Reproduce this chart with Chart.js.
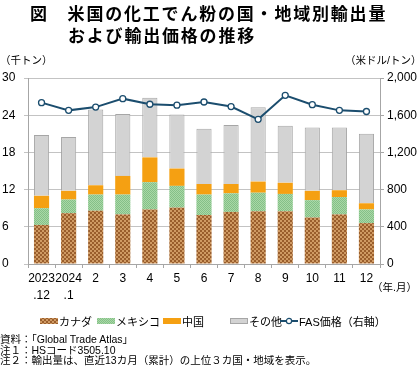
<!DOCTYPE html>
<html><head><meta charset="utf-8">
<script src="https://cdn.jsdelivr.net/npm/chart.js@4.4.0/dist/chart.umd.min.js"></script>
<style>
body{margin:0;width:420px;height:378px;overflow:hidden;background:#fff;font-family:"Liberation Sans","Noto Sans CJK JP",sans-serif;color:#000;}
#wrap{position:relative;width:420px;height:378px;}
#c{position:absolute;left:0;top:0;}
.t{position:absolute;white-space:nowrap;line-height:1;}
.title{font-family:"Noto Sans CJK JP";font-weight:bold;font-size:17px;letter-spacing:1.8px;}
.small{font-size:10.5px;}
.leg{position:absolute;top:315px;height:12px;display:flex;align-items:center;font-size:11px;white-space:nowrap;}
.leg canvas{margin-right:1px;}
</style></head><body>
<div id="wrap">
<canvas id="c" width="420" height="378"></canvas>
<div class="t title" style="left:30px;top:4px;">図　米国の化工でん粉の国・地域別輸出量</div>
<div class="t title" style="left:68px;top:26px;">および輸出価格の推移</div>
<div class="t small" style="left:0px;top:55px;">（千トン）</div>
<div class="t small" style="left:345px;top:55px;">（米ドル/トン）</div>
<div class="t small" style="left:372px;top:282px;">（年.月）</div>
<div id="legend"></div>
<div class="t small" style="left:0px;top:334px;">資料：「Global Trade Atlas」</div>
<div class="t small" style="left:0px;top:344.5px;">注１：HSコード3505.10</div>
<div class="t small" style="left:0px;top:355px;">注２：輸出量は、直近13カ月（累計）の上位３カ国・地域を表示。</div>
</div>
<script>
// ---- data ----
const categories = [["2023", ".12"], ["2024", ".1"], "2", "3", "4", "5", "6", "7", "8", "9", "10", "11", "12"];
const canada = [6.3, 8.2, 8.6, 8.0, 8.8, 9.1, 7.9, 8.4, 8.5, 8.5, 7.5, 8.0, 6.6];
const mexico = [2.7, 2.2, 2.6, 3.2, 4.4, 3.5, 3.3, 3.0, 3.0, 2.8, 2.8, 2.8, 2.2];
const china  = [2.0, 1.4, 1.5, 3.0, 4.0, 2.8, 1.7, 1.5, 1.8, 1.8, 1.5, 1.1, 1.0];
const other  = [9.8, 8.7, 12.2, 10.0, 9.6, 8.7, 8.9, 9.5, 12.0, 9.2, 10.2, 10.1, 11.2];
const fasPrice = [1735, 1652, 1687, 1778, 1718, 1708, 1742, 1693, 1556, 1814, 1713, 1652, 1640];
const seriesNames = ["カナダ", "メキシコ", "中国", "その他", "FAS価格（右軸）"];
const leftTicks = {min: 0, max: 30, step: 6};
const rightTicks = {min: 0, max: 2000, step: 400};

// ---- styles ----
function checker(c1, c2, s) {
  const p = document.createElement('canvas');
  p.width = p.height = s * 2;
  const g = p.getContext('2d');
  g.fillStyle = c1; g.fillRect(0, 0, s * 2, s * 2);
  g.fillStyle = c2; g.fillRect(0, 0, s, s); g.fillRect(s, s, s, s);
  return g.createPattern(p, 'repeat');
}
const canadaFill = checker('#9a5e2c', '#cf9a63', 2);
const mexicoFill = checker('#a9d8a6', '#84c088', 1);
const chinaFill = '#f5a012';
const otherFill = '#d3d3d3';
const lineColor = '#1b4d6e';
const tickFont = {family: 'Liberation Sans', size: 12, lineHeight: 1.4};

const ctx = document.getElementById('c').getContext('2d');
const chart = new Chart(ctx, {
  data: {
    labels: categories,
    datasets: [
      {type: 'line', label: seriesNames[4], data: fasPrice, yAxisID: 'y1', order: 0,
       borderColor: lineColor, borderWidth: 2, pointRadius: 3, pointBackgroundColor: '#fff',
       pointBorderColor: lineColor, pointBorderWidth: 1.3, tension: 0},
      {type: 'bar', label: seriesNames[0], data: canada, backgroundColor: canadaFill, yAxisID: 'y', order: 1, stack: 's'},
      {type: 'bar', label: seriesNames[1], data: mexico, backgroundColor: mexicoFill, yAxisID: 'y', order: 1, stack: 's'},
      {type: 'bar', label: seriesNames[2], data: china, backgroundColor: chinaFill, yAxisID: 'y', order: 1, stack: 's'},
      {type: 'bar', label: seriesNames[3], data: other, backgroundColor: otherFill, borderColor: '#a6a6a6', borderWidth: 1, yAxisID: 'y', order: 1, stack: 's'}
    ]
  },
  options: {
    responsive: false, animation: false,
    layout: {padding: {top: 78, left: 2, right: 0, bottom: 0}},
    datasets: {bar: {categoryPercentage: 1, barPercentage: 0.56}},
    plugins: {legend: {display: false}, tooltip: {enabled: false}},
    scales: {
      x: {stacked: true,
          grid: {display: true, drawOnChartArea: false, tickLength: 4, color: '#a6a6a6', offset: true},
          border: {color: '#a6a6a6'},
          ticks: {autoSkip: false, maxRotation: 0, minRotation: 0, padding: 2, font: tickFont, color: '#000'},
          afterFit(s) { s.height = 114; }},
      y: {stacked: true, position: 'left', min: leftTicks.min, max: leftTicks.max,
          ticks: {stepSize: leftTicks.step, crossAlign: 'far', padding: 3, font: tickFont, color: '#000'},
          grid: {color: '#c3c3c3', tickLength: 4},
          border: {color: '#a6a6a6'},
          afterFit(s) { s.width = 26; }},
      y1: {position: 'right', min: rightTicks.min, max: rightTicks.max,
          ticks: {stepSize: rightTicks.step, padding: 3, font: tickFont, color: '#000',
                  callback: v => v.toLocaleString('en-US')},
          grid: {drawOnChartArea: false, tickLength: 4, color: '#a6a6a6'},
          border: {color: '#a6a6a6'},
          afterFit(s) { s.width = 40; }}
    }
  }
});

// ---- HTML legend built from datasets ----
const legendPos = [40, 97, 163, 230, 280];
const legendOrder = [1, 2, 3, 4, 0];
const legendDiv = document.getElementById('legend');
legendOrder.forEach((di, i) => {
  const ds = chart.data.datasets[di];
  const item = document.createElement('div');
  item.className = 'leg';
  item.style.left = legendPos[i] + 'px';
  const sw = document.createElement('canvas');
  sw.width = 18; sw.height = 8;
  const g = sw.getContext('2d');
  if (ds.type === 'bar') {
    g.fillStyle = ds.backgroundColor; g.fillRect(0, 1, 18, 6);
    if (ds.borderWidth) { g.strokeStyle = ds.borderColor; g.lineWidth = 1; g.strokeRect(0.5, 1.5, 17, 5); }
  } else {
    g.strokeStyle = ds.borderColor; g.lineWidth = 2;
    g.beginPath(); g.moveTo(0, 4); g.lineTo(18, 4); g.stroke();
    g.fillStyle = '#fff'; g.lineWidth = 1.2;
    g.beginPath(); g.arc(9, 4, 2.6, 0, Math.PI * 2); g.fill(); g.stroke();
  }
  item.appendChild(sw);
  const sp = document.createElement('span');
  sp.textContent = ds.label;
  item.appendChild(sp);
  legendDiv.appendChild(item);
});
</script>
</body></html>
